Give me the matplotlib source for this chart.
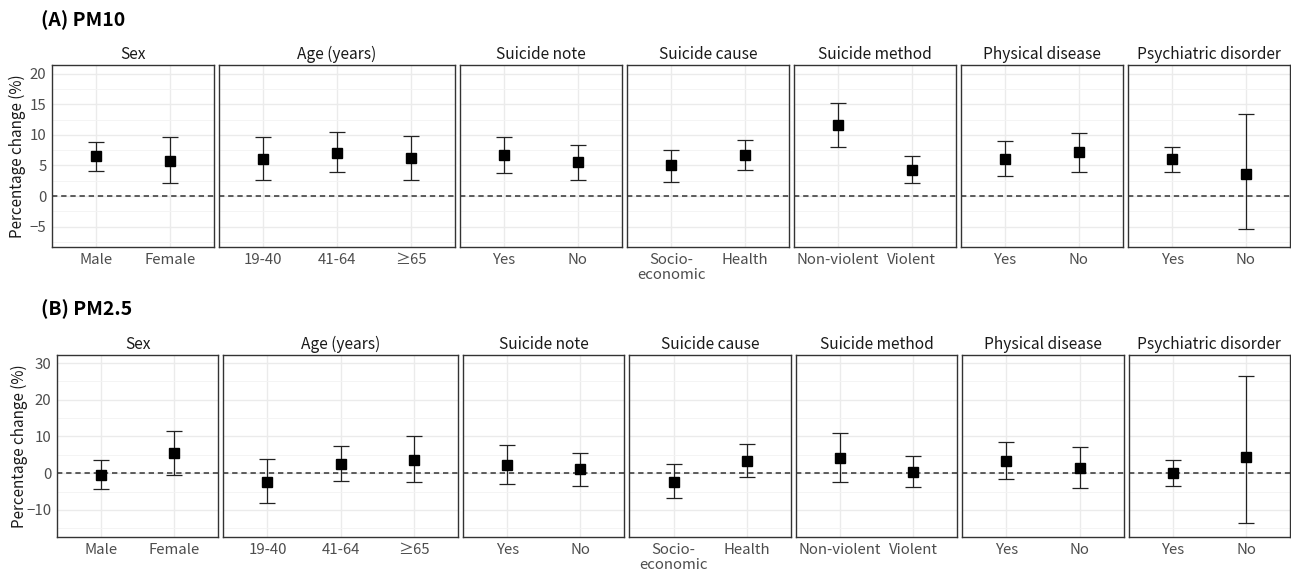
import matplotlib
matplotlib.use('Agg')
import matplotlib.pyplot as plt
from matplotlib.ticker import MultipleLocator

plt.rcParams['font.family'] = ['Noto Sans CJK KR', 'DejaVu Sans']

# facet titles and their categories
facets = ["Sex", "Age (years)", "Suicide note", "Suicide cause",
          "Suicide method", "Physical disease", "Psychiatric disorder"]
categories = [
    ["Male", "Female"],
    ["19-40", "41-64", "\u226565"],
    ["Yes", "No"],
    ["Socio-\neconomic", "Health"],
    ["Non-violent", "Violent"],
    ["Yes", "No"],
    ["Yes", "No"],
]

# (A) PM10: estimate, lower CI, upper CI
pm10_est = [[6.5, 5.8], [6.1, 7.1, 6.2], [6.7, 5.5], [5.0, 6.7], [11.6, 4.3], [6.0, 7.2], [6.0, 3.6]]
pm10_lo = [[4.1, 2.2], [2.7, 4.0, 2.7], [3.8, 2.6], [2.3, 4.3], [8.0, 2.2], [3.3, 4.0], [4.0, -5.4]]
pm10_hi = [[8.9, 9.6], [9.6, 10.4, 9.8], [9.6, 8.4], [7.5, 9.1], [15.2, 6.5], [9.0, 10.3], [8.0, 13.4]]

# (B) PM2.5
pm25_est = [[-0.4, 5.4], [-2.4, 2.6, 3.7], [2.2, 1.0], [-2.3, 3.4], [4.2, 0.4], [3.4, 1.4], [0.0, 4.5]]
pm25_lo = [[-4.4, -0.4], [-8.2, -2.2, -2.4], [-3.0, -3.4], [-6.9, -1.0], [-2.4, -3.7], [-1.7, -4.1], [-3.4, -13.7]]
pm25_hi = [[3.6, 11.4], [3.9, 7.4, 10.2], [7.6, 5.5], [2.5, 7.9], [10.9, 4.6], [8.5, 7.1], [3.5, 26.5]]

W, H = 1291, 575
fig = plt.figure(figsize=(W / 100, H / 100), dpi=100)

border = '#333333'
grid = '#ebebeb'
tick_col = '#4d4d4d'


def draw_row(est, lo, hi, top_px, bottom_px, left_px, ylim, major, minor, title, title_y, ylab_x):
    gap = 5
    right_px = 1290
    units = sum(len(c) + 0.2 for c in categories)
    u = (right_px - left_px - gap * (len(categories) - 1)) / units
    x0 = left_px
    for i, cats in enumerate(categories):
        w = (len(cats) + 0.2) * u
        ax = fig.add_axes([x0 / W, 1 - bottom_px / H, w / W, (bottom_px - top_px) / H])
        xs = list(range(1, len(cats) + 1))
        ax.set_xlim(0.4, len(cats) + 0.6)
        ax.set_ylim(*ylim)
        ax.yaxis.set_major_locator(MultipleLocator(major))
        ax.yaxis.set_minor_locator(MultipleLocator(minor))
        ax.grid(True, which='major', color=grid, lw=1.0)
        ax.grid(True, which='minor', axis='y', color='#f3f3f3', lw=0.6)
        ax.set_axisbelow(True)
        ax.axhline(0, color='#333333', ls=(0, (3.5, 2.5)), lw=1.1, zorder=2)
        yerr = [[e - l for e, l in zip(est[i], lo[i])], [h - e for e, h in zip(est[i], hi[i])]]
        ax.errorbar(xs, est[i], yerr=yerr, fmt='none', ecolor='#222222', elinewidth=0.9,
                    capsize=5.5, capthick=0.9, zorder=3)
        ax.plot(xs, est[i], 's', color='black', ms=7, zorder=4)
        ax.set_xticks(xs)
        ax.set_xticklabels(cats, fontsize=10.8, color=tick_col, linespacing=1.15)
        ax.tick_params(length=0, pad=4)
        ax.tick_params(axis='y', which='both', length=0)
        if i == 0:
            ax.tick_params(axis='y', labelsize=10.8, labelcolor=tick_col)
        else:
            ax.set_yticklabels([])
        for s in ax.spines.values():
            s.set_color(border)
            s.set_linewidth(1.0)
        ax.set_title(facets[i], fontsize=11.2, pad=4, color='#1a1a1a')
        x0 += w + gap
    fig.text(ylab_x / W, 1 - (top_px + bottom_px) / 2 / H, "Percentage change (%)",
             rotation=90, fontsize=11, ha='center', va='center', color='#1a1a1a')
    fig.text(41 / W, 1 - title_y / H, title, fontsize=14, fontweight='bold', va='center')


draw_row(pm10_est, pm10_lo, pm10_hi, 65, 247, 52, (-8.3, 21.4), 5, 2.5, "(A) PM10", 20, 17)
draw_row(pm25_est, pm25_lo, pm25_hi, 355, 537, 57, (-17.4, 32.2), 10, 5, "(B) PM2.5", 309, 19)

fig.savefig('out.png', dpi=100)
